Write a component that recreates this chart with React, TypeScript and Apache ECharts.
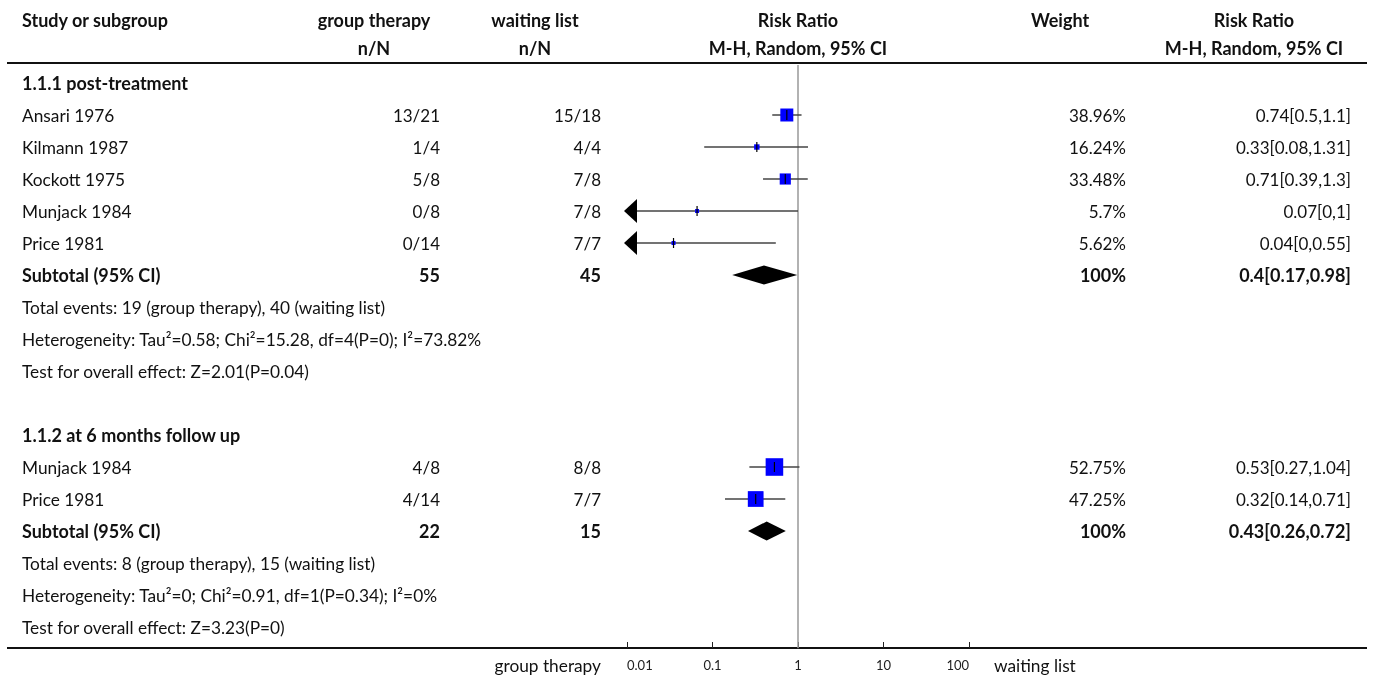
import { useEffect, useRef } from "react";
import * as echarts from "echarts";

// ---------- data ----------
const subgroupTitles = ["1.1.1 post-treatment", "1.1.2 at 6 months follow up"];
const studyNames = ["Ansari 1976", "Kilmann 1987", "Kockott 1975", "Munjack 1984", "Price 1981", "Munjack 1984", "Price 1981"];
const studySubgroup = [0, 0, 0, 0, 0, 1, 1];
const groupTherapyNN = ["13/21", "1/4", "5/8", "0/8", "0/14", "4/8", "4/14"];
const waitingListNN = ["15/18", "4/4", "7/8", "7/8", "7/7", "8/8", "7/7"];
const weights = [38.96, 16.24, 33.48, 5.7, 5.62, 52.75, 47.25];
const rrEstimate = [0.74, 0.33, 0.71, 0.066, 0.035, 0.53, 0.32];
const ciLower = [0.5, 0.08, 0.39, 0, 0, 0.27, 0.14];
const ciUpper = [1.1, 1.31, 1.3, 1, 0.55, 1.04, 0.71];
const rrLabels = ["0.74[0.5,1.1]", "0.33[0.08,1.31]", "0.71[0.39,1.3]", "0.07[0,1]", "0.04[0,0.55]", "0.53[0.27,1.04]", "0.32[0.14,0.71]"];
const weightLabels = ["38.96%", "16.24%", "33.48%", "5.7%", "5.62%", "52.75%", "47.25%"];

const subtotalGroupTherapy = ["55", "22"];
const subtotalWaitingList = ["45", "15"];
const subtotalRR = [0.4, 0.43];
const subtotalLower = [0.17, 0.26];
const subtotalUpper = [0.98, 0.72];
const subtotalLabels = ["0.4[0.17,0.98]", "0.43[0.26,0.72]"];
const subtotalWeight = ["100%", "100%"];
const totalEvents = [
  "Total events: 19 (group therapy), 40 (waiting list)",
  "Total events: 8 (group therapy), 15 (waiting list)",
];
const heterogeneity = [
  "Heterogeneity: Tau\u00b2=0.58; Chi\u00b2=15.28, df=4(P=0); I\u00b2=73.82%",
  "Heterogeneity: Tau\u00b2=0; Chi\u00b2=0.91, df=1(P=0.34); I\u00b2=0%",
];
const overallTest = ["Test for overall effect: Z=2.01(P=0.04)", "Test for overall effect: Z=3.23(P=0)"];

const headerTop = ["Study or subgroup", "group therapy", "waiting list", "Risk Ratio", "Weight", "Risk Ratio"];
const headerBottom = ["", "n/N", "n/N", "M-H, Random, 95% CI", "", "M-H, Random, 95% CI"];
const footLeft = "group therapy";
const footRight = "waiting list";

// ---------- layout ----------
const FONT = "Lato";
const FS = 17.3;
const FS_BOLD = 18;
const FS_NUM = 17;
const COL_X = { study: 22, gt: 440, wl: 601, weight: 1126, rr: 1351 };
const HEADER_CENTERS = [22, 374, 535, 798, 1060, 1254];
const AXIS_MIN = 0.01;
const AXIS_MAX = 100;

type Row = {
  row: number;
  cells: { study?: string; gt?: string; wl?: string; weight?: string; rr?: string };
  bold: boolean;
};

function buildRows(): { rows: Row[]; studyRow: number[]; subtotalRow: number[] } {
  const rows: Row[] = [];
  const studyRow: number[] = [];
  const subtotalRow: number[] = [];
  let r = 0;
  subgroupTitles.forEach((title, g) => {
    rows.push({ row: r++, cells: { study: title }, bold: true });
    studyNames.forEach((name, i) => {
      if (studySubgroup[i] !== g) return;
      studyRow[i] = r;
      rows.push({
        row: r++,
        cells: { study: name, gt: groupTherapyNN[i], wl: waitingListNN[i], weight: weightLabels[i], rr: rrLabels[i] },
        bold: false,
      });
    });
    subtotalRow[g] = r;
    rows.push({
      row: r++,
      cells: {
        study: "Subtotal (95% CI)",
        gt: subtotalGroupTherapy[g],
        wl: subtotalWaitingList[g],
        weight: subtotalWeight[g],
        rr: subtotalLabels[g],
      },
      bold: true,
    });
    rows.push({ row: r++, cells: { study: totalEvents[g] }, bold: false });
    rows.push({ row: r++, cells: { study: heterogeneity[g] }, bold: false });
    rows.push({ row: r++, cells: { study: overallTest[g] }, bold: false });
    if (g < subgroupTitles.length - 1) rows.push({ row: r++, cells: {}, bold: false });
  });
  return { rows, studyRow, subtotalRow };
}

export default function App() {
  const ref = useRef<HTMLDivElement>(null);
  useEffect(() => {
    document.body.style.margin = "0";
    const chart = echarts.init(ref.current!, undefined, { renderer: "svg" });
    const { rows, studyRow, subtotalRow } = buildRows();

    const textEl = (text: string, x: number, y: number, align: string, bold: boolean, size: number) => ({
      type: "text",
      style: {
        text,
        x,
        y,
        align,
        verticalAlign: "middle",
        fontFamily: FONT,
        fontSize: bold ? Math.max(size, FS_BOLD) : size,
        fontWeight: bold ? "bold" : "normal",
        fill: "#111",
      },
    });

    const tableSeries = {
      type: "custom",
      clip: false,
      silent: true,
      data: rows.map((r) => [1, r.row]),
      renderItem: (params: any, api: any) => {
        const r = rows[params.dataIndex];
        const y = api.coord([1, api.value(1)])[1];
        const children: any[] = [];
        if (r.cells.study) children.push(textEl(r.cells.study, COL_X.study, y, "left", r.bold, FS));
        if (r.cells.gt) children.push(textEl(r.cells.gt, COL_X.gt, y, "right", r.bold, FS_NUM));
        if (r.cells.wl) children.push(textEl(r.cells.wl, COL_X.wl, y, "right", r.bold, FS_NUM));
        if (r.cells.weight) children.push(textEl(r.cells.weight, COL_X.weight, y, "right", r.bold, FS_NUM));
        if (r.cells.rr) children.push(textEl(r.cells.rr, COL_X.rr, y, "right", r.bold, FS_NUM));
        return { type: "group", children };
      },
    };

    const studySeries = {
      type: "custom",
      clip: false,
      silent: true,
      data: studyNames.map((_, i) => [rrEstimate[i], studyRow[i], ciLower[i], ciUpper[i], weights[i]]),
      renderItem: (params: any, api: any) => {
        const est = api.value(0);
        const row = api.value(1);
        const lo = api.value(2);
        const hi = api.value(3);
        const w = api.value(4);
        const [cx, cy] = api.coord([est, row]);
        const clipped = lo < AXIS_MIN;
        const xl = api.coord([clipped ? AXIS_MIN : lo, row])[0];
        const xh = api.coord([hi, row])[0];
        const size = Math.max(4, w / 3);
        const children: any[] = [];
        let lineStart = xl;
        if (clipped) {
          const tip = xl - 3;
          const base = tip + 13;
          lineStart = base;
          children.push({
            type: "polygon",
            shape: { points: [[tip, cy], [base, cy - 12], [base, cy + 12]] },
            style: { fill: "#000" },
          });
        }
        children.push({
          type: "line",
          shape: { x1: lineStart, y1: cy, x2: xh, y2: cy },
          style: { stroke: "#444", lineWidth: 1.5 },
        });
        children.push({
          type: "rect",
          shape: { x: cx - size / 2, y: cy - size / 2, width: size, height: size },
          style: { fill: "#0000ff" },
        });
        children.push({
          type: "line",
          shape: { x1: cx, y1: cy - 5, x2: cx, y2: cy + 5 },
          style: { stroke: "#000", lineWidth: 1.2 },
        });
        return { type: "group", children };
      },
    };

    const diamondSeries = {
      type: "custom",
      clip: false,
      silent: true,
      data: subtotalRR.map((v, g) => [v, subtotalRow[g], subtotalLower[g], subtotalUpper[g]]),
      renderItem: (params: any, api: any) => {
        const row = api.value(1);
        const [cx, cy] = api.coord([api.value(0), row]);
        const xl = api.coord([api.value(2), row])[0];
        const xh = api.coord([api.value(3), row])[0];
        return {
          type: "polygon",
          shape: { points: [[xl, cy], [cx, cy - 9.5], [xh, cy], [cx, cy + 9.5]] },
          style: { fill: "#000" },
        };
      },
    };

    const nullLine = {
      type: "line",
      silent: true,
      symbol: "none",
      data: [
        [1, -0.56],
        [1, 17.66],
      ],
      lineStyle: { color: "#999", width: 1.5 },
      z: 1,
    };

    const headerGraphics: any[] = [];
    headerTop.forEach((t, i) => {
      headerGraphics.push({
        type: "text",
        x: HEADER_CENTERS[i],
        y: 20,
        style: {
          text: t,
          align: i === 0 ? "left" : "center",
          verticalAlign: "middle",
          fontFamily: FONT,
          fontSize: FS_BOLD,
          fontWeight: "bold",
          fill: "#111",
        },
      });
      if (headerBottom[i]) {
        headerGraphics.push({
          type: "text",
          x: HEADER_CENTERS[i],
          y: 48,
          style: {
            text: headerBottom[i],
            align: "center",
            verticalAlign: "middle",
            fontFamily: FONT,
            fontSize: FS_BOLD,
            fontWeight: "bold",
            fill: "#111",
          },
        });
      }
    });

    chart.setOption({
      animation: false,
      grid: { left: 627, width: 342, top: 63, height: 585, containLabel: false },
      xAxis: {
        type: "log",
        logBase: 10,
        min: AXIS_MIN,
        max: AXIS_MAX,
        axisLine: { show: false, onZero: false },
        axisTick: { show: true, inside: true, length: 6, lineStyle: { color: "#222", width: 1 } },
        minorTick: { show: false },
        splitLine: { show: false },
        axisLabel: {
          margin: 10,
          fontFamily: FONT,
          fontSize: 13,
          color: "#222",
          alignMinLabel: "left",
          alignMaxLabel: "right",
          formatter: (v: number) => String(parseFloat(Number(v).toPrecision(3))),
        },
      },
      yAxis: {
        type: "value",
        inverse: true,
        min: -0.625,
        max: 17.656,
        show: false,
      },
      series: [nullLine, tableSeries, studySeries, diamondSeries],
      graphic: [
        ...headerGraphics,
        { type: "line", shape: { x1: 7, y1: 63, x2: 1367, y2: 63 }, style: { stroke: "#111", lineWidth: 2 } },
        { type: "line", shape: { x1: 7, y1: 648, x2: 1367, y2: 648 }, style: { stroke: "#111", lineWidth: 2 } },
        {
          type: "text",
          x: 601,
          y: 665,
          style: { text: footLeft, align: "right", verticalAlign: "middle", fontFamily: FONT, fontSize: FS, fill: "#111" },
        },
        {
          type: "text",
          x: 994,
          y: 665,
          style: { text: footRight, align: "left", verticalAlign: "middle", fontFamily: FONT, fontSize: FS, fill: "#111" },
        },
      ],
    });
    return () => chart.dispose();
  }, []);
  return <div ref={ref} style={{ position: "fixed", left: 0, top: 0, width: 1375, height: 678 }} />;
}
